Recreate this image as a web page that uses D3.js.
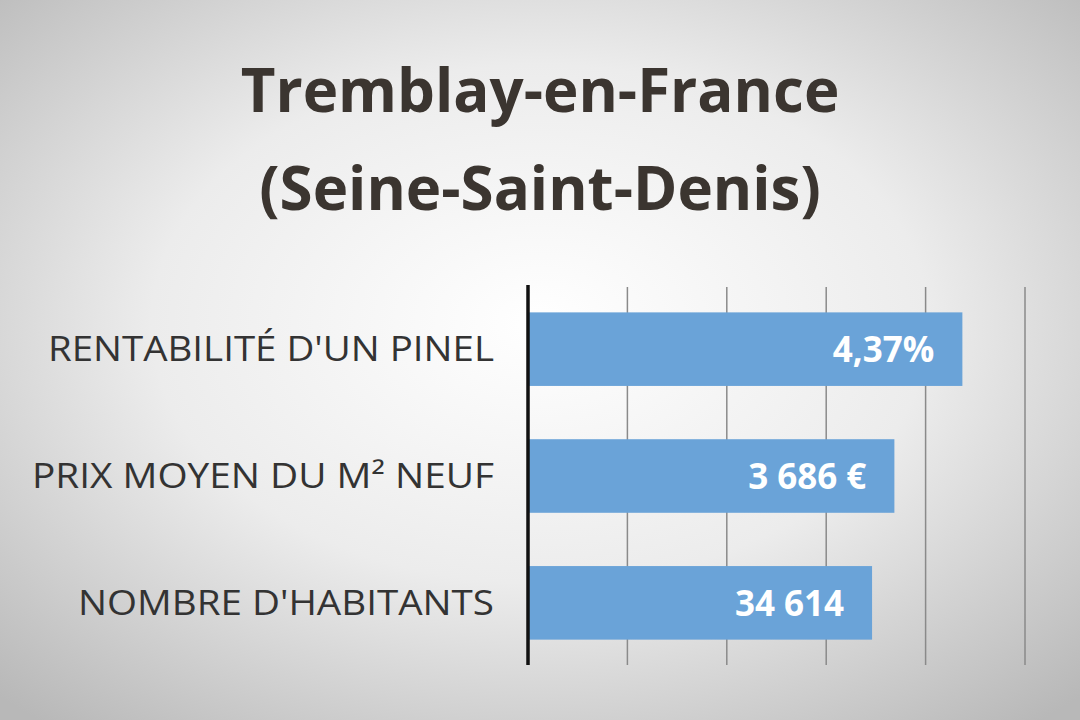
<!DOCTYPE html>
<html><head><meta charset="utf-8">
<script src="https://cdn.jsdelivr.net/npm/d3@7"></script>
<style>body{margin:0;overflow:hidden}</style>
</head><body><svg id="chart"></svg>
<script>
const categories = ["RENTABILITÉ D'UN PINEL", "PRIX MOYEN DU M² NEUF", "NOMBRE D'HABITANTS"];
const barValues = [4.37, 3.686, 3.4614];
const valueLabels = ["4,37%", "3 686 €", "34 614"];
const ticks = [0, 1, 2, 3, 4, 5];

const w = 1080, h = 720;
const svg = d3.select("#chart").attr("width", w).attr("height", h);

const defs = svg.append("defs");
const grad = defs.append("radialGradient").attr("id", "bg")
  .attr("cx", "50%").attr("cy", "45%").attr("r", "72%");
grad.append("stop").attr("offset", "0%").attr("stop-color", "#ffffff");
grad.append("stop").attr("offset", "50%").attr("stop-color", "#ececec");
grad.append("stop").attr("offset", "100%").attr("stop-color", "#b8b8b8");
svg.append("rect").attr("width", w).attr("height", h).attr("fill", "url(#bg)");

svg.append("text").attr("x", 540).attr("y", 112).attr("text-anchor", "middle")
  .attr("font-family", "Open Sans").attr("font-weight", "bold").attr("font-size", 60)
  .attr("fill", "#3b3530").text("Tremblay-en-France");
svg.append("text").attr("x", 540).attr("y", 210).attr("text-anchor", "middle")
  .attr("font-family", "Open Sans").attr("font-weight", "bold").attr("font-size", 60)
  .attr("fill", "#3b3530").text("(Seine-Saint-Denis)");

const x = d3.scaleLinear().domain([0, 5]).range([528, 1025]);
const y = d3.scaleBand().domain(categories).range([287, 665]).paddingInner(0.42).paddingOuter(0.2);

svg.append("g").selectAll("line").data(ticks.slice(1)).join("line")
  .attr("x1", d => x(d)).attr("x2", d => x(d)).attr("y1", 287).attr("y2", 665)
  .attr("stroke", "#8a8a8a").attr("stroke-width", 1.5);

svg.append("g").selectAll("rect").data(barValues).join("rect")
  .attr("x", x(0)).attr("y", (d, i) => y(categories[i]))
  .attr("width", d => x(d) - x(0)).attr("height", y.bandwidth())
  .attr("fill", "#6aa3d8");

svg.append("line").attr("x1", x(0)).attr("x2", x(0)).attr("y1", 285).attr("y2", 665)
  .attr("stroke", "#111").attr("stroke-width", 3.5);

svg.append("g").selectAll("text").data(valueLabels).join("text")
  .attr("x", (d, i) => x(barValues[i]) - 28)
  .attr("y", (d, i) => y(categories[i]) + y.bandwidth() / 2 + 13)
  .attr("text-anchor", "end").attr("font-family", "Open Sans").attr("font-weight", "bold")
  .attr("font-size", 35).attr("fill", "#ffffff").text(d => d);

const labelWidths = [446, 462, 416];
svg.append("g").selectAll("text").data(categories).join("text")
  .attr("x", (d, i) => 494 - labelWidths[i]).attr("y", d => y(d) + y.bandwidth() / 2 + 12)
  .attr("textLength", (d, i) => labelWidths[i]).attr("lengthAdjust", "spacingAndGlyphs")
  .attr("font-family", "Open Sans")
  .attr("font-size", 34).attr("fill", "#333").text(d => d);
</script></body></html>
